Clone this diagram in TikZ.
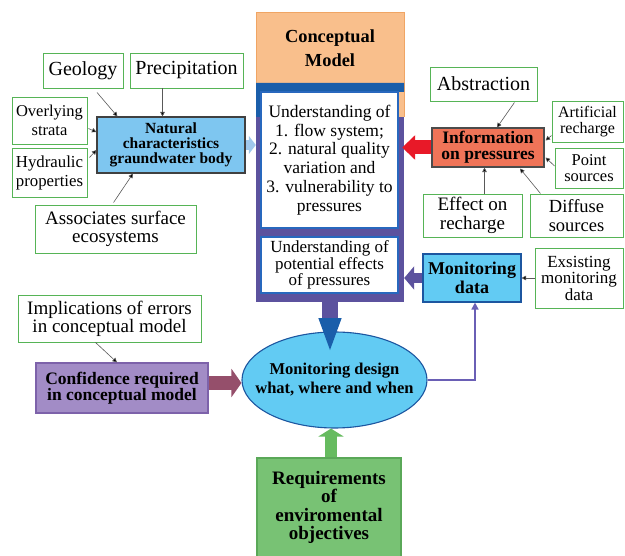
\documentclass[tikz,border=0pt]{standalone}
\usepackage{fontspec}
\setmainfont{Liberation Serif}
\usetikzlibrary{calc,arrows.meta,shapes.geometric}
\definecolor{lblgreen}{RGB}{86,180,86}
\definecolor{cmorange}{RGB}{249,191,140}
\definecolor{cmorangedk}{RGB}{240,165,100}
\definecolor{cmblue}{RGB}{26,94,170}
\definecolor{framepurple}{RGB}{92,82,158}
\definecolor{wborder}{RGB}{40,104,190}
\definecolor{natblue}{RGB}{126,198,240}
\definecolor{natarr}{RGB}{160,200,236}
\definecolor{infored}{RGB}{240,116,88}
\definecolor{redarr}{RGB}{232,25,40}
\definecolor{monblue}{RGB}{98,203,243}
\definecolor{darkblue}{RGB}{28,86,160}
\definecolor{confpurple}{RGB}{162,140,198}
\definecolor{confborder}{RGB}{125,98,170}
\definecolor{maroonarr}{RGB}{149,79,107}
\definecolor{reqgreen}{RGB}{120,194,116}
\definecolor{reqborder}{RGB}{90,168,88}
\definecolor{greenarr}{RGB}{102,187,95}
\definecolor{linkpurple}{RGB}{106,95,181}
\newcommand{\fsz}[2]{\fontsize{#1}{#2}\selectfont}
\tikzset{
	inbox/.style={draw=lblgreen,fill=white,line width=0.9pt,align=center,inner sep=1pt},
	keybox/.style={line width=1.1pt,align=center,inner sep=1pt},
	wbox/.style={draw=wborder,fill=white,line width=1.3pt,align=center,inner sep=1pt},
	pin/.style={draw=black!65,line width=0.6pt,-{Triangle[length=4.5pt,width=4.5pt,fill=black]}},
	natarrow/.style={draw=natarr,line width=10pt,-{Triangle[length=7pt,width=18pt]}},
	redarrow/.style={draw=redarr,line width=14pt,-{Triangle[length=13pt,width=24pt]}},
	monarrow/.style={draw=framepurple,line width=10pt,-{Triangle[length=10pt,width=23pt]}},
	maroonarrow/.style={draw=maroonarr,line width=14pt,-{Triangle[length=10pt,width=28pt]}},
	greenarrow/.style={draw=greenarr,line width=12pt,-{Triangle[length=8pt,width=25pt]}},
	downarrow/.style={draw=framepurple,line width=16pt,-{Triangle[length=35pt,width=20pt,fill=cmblue,color=cmblue]}},
	linkarrow/.style={draw=linkpurple,line width=1.5pt,-{Triangle[length=7pt,width=7pt]}}
}

\begin{document}
\begin{tikzpicture}[x=1pt,y=-1pt]
	\useasboundingbox (0,0) rectangle (625,556);
	
	% -------------------------------------------------
	% 1. Conceptual model column
	% -------------------------------------------------
	\fill[cmorange] (256,12) rectangle (404,117);
	\draw[cmorangedk,line width=0.8pt] (256,83) |- (404,12) -- (404,117);
	\fill[cmblue] (256,83) -- (404,83) -- (404,92) -- (398,92) -- (398,117) -- (256,117) -- cycle;
	\node[font=\bfseries\fsz{18.4}{24},align=center] (cm) at (330,48) {Conceptual\\Model};
	\node[fill=framepurple,minimum width=148,minimum height=185,inner sep=0] (frame) at (330,209.5) {};
	\node[wbox,minimum width=137,minimum height=136,font=\fsz{17.5}{18.7}] (und) at (329.5,160)
	{Understanding of\\1. flow system;\\2. natural quality\\variation and\\3. vulnerability to\\pressures};
	\node[wbox,minimum width=137,minimum height=56,font=\fsz{17}{16.5}] (eff) at (329.5,265)
	{Understanding of\\potential effects\\of pressures};
	
	% -------------------------------------------------
	% 2. Natural characteristics and its inputs
	% -------------------------------------------------
	\node[keybox,draw=black!75,fill=natblue,minimum width=148,minimum height=56,font=\bfseries\fsz{15.5}{15}] (nat) at (171,145)
	{Natural\\characteristics\\graundwater body};
	\node[inbox,minimum width=80,minimum height=35,font=\fsz{20}{17}] (geo) at (83,70.5) {Geology};
	\node[inbox,minimum width=113,minimum height=35,font=\fsz{20}{17}] (prec) at (186.5,70.5) {Precipitation};
	\node[inbox,minimum width=75,minimum height=47,font=\fsz{16.5}{19}] (ovs) at (49.5,120.5) {Overlying\\strata};
	\node[inbox,minimum width=75,minimum height=49,font=\fsz{16.8}{19}] (hyd) at (49.5,172.5) {Hydraulic\\properties};
	\node[inbox,minimum width=161,minimum height=48,font=\fsz{19}{17.5}] (eco) at (115.5,229) {Associates surface\\ecosystems};
	
	\draw[pin] ($(geo.south)+(14,4)$) -- ($(nat.north west)+(21,0)$);
	\draw[pin] ($(prec.south)+(-24,0)$) -- ($(nat.north)+(-8.5,0)$);
	\draw[pin] ($(ovs.east)+(1,8)$) -- ($(nat.west)+(0,-13)$);
	\draw[pin] ($(hyd.east)+(2,-15)$) -- ($(nat.west)+(0,5)$);
	\draw[pin] ($(eco.north)+(-2,-2)$) -- ($(nat.south)+(-38,0)$);
	\draw[natarrow] (nat.east) -- (nat.east -| frame.west);
	
	% -------------------------------------------------
	% 3. Information on pressures and its inputs
	% -------------------------------------------------
	\node[keybox,draw=black!70,fill=infored,minimum width=112,minimum height=39,font=\bfseries\fsz{17.5}{16}] (info) at (488,147.5)
	{Information\\on pressures};
	\node[inbox,minimum width=107,minimum height=34,font=\fsz{20}{17}] (abs) at (483.5,84) {Abstraction};
	\node[inbox,minimum width=71,minimum height=41,font=\fsz{16}{16.7}] (art) at (587.5,121.5) {Artificial\\recharge};
	\node[inbox,minimum width=68,minimum height=40,font=\fsz{16.5}{16.5}] (pts) at (589,168) {Point\\sources};
	\node[inbox,minimum width=99,minimum height=43,font=\fsz{19}{18.5}] (efr) at (472.5,215.5) {Effect on\\recharge};
	\node[inbox,minimum width=93,minimum height=43,font=\fsz{18.5}{18.5}] (dif) at (576.5,215.5) {Diffuse\\sources};
	
	\draw[pin] ($(abs.south)+(31,1)$) -- ($(info.north)+(9,0)$);
	\draw[pin] ($(art.west)+(0,14)$) -- ($(info.east)+(1,-7)$);
	\draw[pin] ($(pts.west)+(0,-2)$) -- ($(info.east)+(1,10)$);
	\draw[pin] ($(efr.north)+(12,0)$) -- ($(info.south)+(-3.5,0)$);
	\draw[pin] ($(dif.north)+(-36,0)$) -- ($(info.south)+(32,1)$);
	\draw[redarrow] (info.west) -- ($(info.west -| frame.east)+(-2,0)$);
	
	% -------------------------------------------------
	% 4. Monitoring data
	% -------------------------------------------------
	\node[keybox,draw=darkblue,fill=monblue,minimum width=98,minimum height=48,font=\bfseries\fsz{18}{19}] (mon) at (472,278)
	{Monitoring\\data};
	\node[inbox,minimum width=88,minimum height=60,font=\fsz{17}{16.5}] (exm) at (579,278) {Exsisting\\monitoring\\data};
	
	\draw[pin] (exm.west) -- (mon.east);
	\draw[monarrow] (mon.west) -- (mon.west -| frame.east);
	
	% -------------------------------------------------
	% 5. Monitoring design
	% -------------------------------------------------
	\node[ellipse,draw=darkblue,fill=monblue,line width=1.1pt,minimum width=185,minimum height=96,inner sep=0] (des) at (334.5,380) {};
	\node[font=\bfseries\fsz{16.5}{19},align=center] (destext) at (des.center) {Monitoring design\\what, where and when};
	\draw[downarrow] (frame.south) -- ($(frame.south)+(0,51)$);
	
	\node[keybox,draw=confborder,fill=confpurple,minimum width=172,minimum height=50,font=\bfseries\fsz{17.5}{16.5}] (conf) at (122,388)
	{Confidence required\\in conceptual model};
	\node[inbox,minimum width=183,minimum height=47,font=\fsz{19}{16.5}] (impl) at (109.5,318.5)
	{Implications of errors\\in conceptual model};
	\draw[pin] ($(impl.south)+(-14,0)$) -- ($(conf.north)+(-5,0)$);
	\draw[maroonarrow] ([yshift=5pt]conf.east) -- ([yshift=5pt]conf.east -| des.west);
	
	\node[keybox,draw=reqborder,fill=reqgreen,minimum width=144,minimum height=99,font=\bfseries\fsz{19}{18.5}] (req) at (329,507.5)
	{Requirements\\of\\enviromental\\objectives};
	\draw[greenarrow] ([xshift=2pt]req.north) -- ([xshift=2pt]req.north |- des.south);
	
	\draw[linkarrow] (des.east) -| ([xshift=3pt]mon.south);
	
\end{tikzpicture}
\end{document}
